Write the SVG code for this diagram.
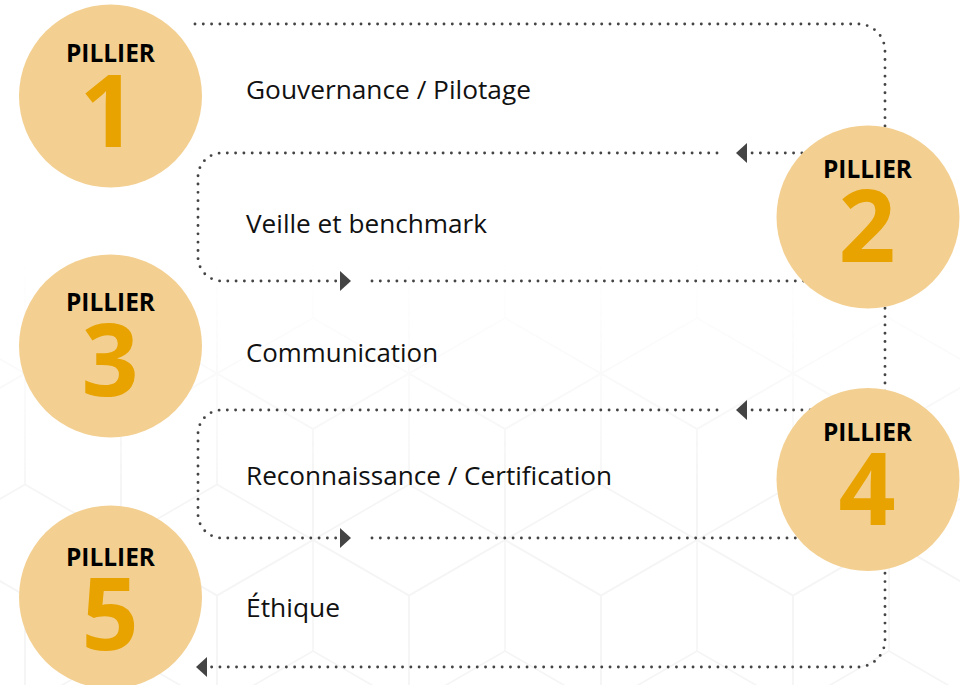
<svg xmlns="http://www.w3.org/2000/svg" xmlns:xlink="http://www.w3.org/1999/xlink" width="960" height="685" viewBox="0 0 960 685">
<defs>
<style>
.pill{fill:#F3D092}
.ptit{font-family:"Open Sans","DejaVu Sans",sans-serif;font-weight:700;font-size:25px;fill:#000;text-anchor:middle}
.pnum{font-family:"Open Sans","DejaVu Sans",sans-serif;font-weight:700;font-size:100px;fill:#E8A300;text-anchor:middle}
.lbl{font-family:"Open Sans","DejaVu Sans",sans-serif;font-size:26px;fill:#111}
.dot{fill:none;stroke:#444;stroke-width:2.9;stroke-linecap:round;stroke-dasharray:0 8.3}
.arr{fill:#444}
.hex{fill:none;stroke:#F5F5F5;stroke-width:1.6}
</style>
<path id="hx" class="hex" d="M0,-111 L96,-55.5 L96,55.5 L0,111 L-96,55.5 L-96,-55.5 Z M-96,55.5 L0,0 L96,55.5 M0,0 L0,-111"/>
<pattern id="hexpat" patternUnits="userSpaceOnUse" x="121" y="-15" width="192" height="333">
<use xlink:href="#hx" x="0" y="0"/>
<use xlink:href="#hx" x="192" y="0"/>
<use xlink:href="#hx" x="96" y="166.5"/>
<use xlink:href="#hx" x="-96" y="166.5"/>
<use xlink:href="#hx" x="288" y="166.5"/>
<use xlink:href="#hx" x="0" y="333"/>
<use xlink:href="#hx" x="192" y="333"/>
</pattern>
<linearGradient id="fade" x1="0" y1="0" x2="0" y2="1">
<stop offset="0" stop-color="#fff" stop-opacity="0"/>
<stop offset="0.38" stop-color="#fff" stop-opacity="0"/>
<stop offset="0.7" stop-color="#fff" stop-opacity="1"/>
<stop offset="1" stop-color="#fff" stop-opacity="1"/>
</linearGradient>
<mask id="fmask" maskUnits="userSpaceOnUse" x="0" y="0" width="960" height="685">
<rect x="0" y="0" width="960" height="685" fill="url(#fade)"/>
</mask>
</defs>
<rect x="0" y="0" width="960" height="685" fill="#fff"/>
<rect id="background-pattern" x="0" y="0" width="960" height="685" fill="url(#hexpat)" mask="url(#fmask)"/>

<g id="connectors">
<path class="dot" d="M195,24 H858 A27,27 0 0 1 885,51 V135"/>
<path class="dot" d="M860,153 H752"/>
<polygon class="arr" points="736,153 747,143 747,163"/>
<path class="dot" d="M717,153 H222 A24,24 0 0 0 198,177 V257 A24,24 0 0 0 222,281 H340"/>
<polygon class="arr" points="351,281 340,271 340,291"/>
<path class="dot" d="M372,281 H860"/>
<path class="dot" d="M885,300 V395"/>
<path class="dot" d="M860,410 H752"/>
<polygon class="arr" points="736,410 747,400 747,420"/>
<path class="dot" d="M717,410 H222 A24,24 0 0 0 198,434 V514 A24,24 0 0 0 222,538 H340"/>
<polygon class="arr" points="351,538 340,528 340,548"/>
<path class="dot" d="M372,538 H860"/>
<path class="dot" d="M885,565 V640 A27,27 0 0 1 858,667 H210"/>
<polygon class="arr" points="196,667 207,657 207,677"/>
</g>

<g id="pillier-1">
<circle class="pill" cx="110.5" cy="96" r="91.5"/>
<text class="ptit" x="110.5" y="62" textLength="89" lengthAdjust="spacingAndGlyphs">PILLIER</text>
<text class="pnum" x="108" y="147">1</text>
<text class="lbl" x="246" y="99" textLength="285" lengthAdjust="spacingAndGlyphs">Gouvernance / Pilotage</text>
</g>
<g id="pillier-2">
<circle class="pill" cx="868" cy="217" r="91.5"/>
<text class="ptit" x="867.5" y="178" textLength="89" lengthAdjust="spacingAndGlyphs">PILLIER</text>
<text class="pnum" x="867" y="262">2</text>
<text class="lbl" x="246" y="233" textLength="241" lengthAdjust="spacingAndGlyphs">Veille et benchmark</text>
</g>
<g id="pillier-3">
<circle class="pill" cx="110.5" cy="346" r="91.5"/>
<text class="ptit" x="110.5" y="311" textLength="89" lengthAdjust="spacingAndGlyphs">PILLIER</text>
<text class="pnum" x="110" y="396">3</text>
<text class="lbl" x="246" y="362" textLength="192" lengthAdjust="spacingAndGlyphs">Communication</text>
</g>
<g id="pillier-4">
<circle class="pill" cx="868" cy="479.5" r="91.5"/>
<text class="ptit" x="867.5" y="441" textLength="89" lengthAdjust="spacingAndGlyphs">PILLIER</text>
<text class="pnum" x="867" y="525">4</text>
<text class="lbl" x="246" y="485" textLength="366" lengthAdjust="spacingAndGlyphs">Reconnaissance / Certification</text>
</g>
<g id="pillier-5">
<circle class="pill" cx="110.5" cy="597" r="91.5"/>
<text class="ptit" x="110.5" y="566" textLength="89" lengthAdjust="spacingAndGlyphs">PILLIER</text>
<text class="pnum" x="110" y="650">5</text>
<text class="lbl" x="246" y="617" textLength="94" lengthAdjust="spacingAndGlyphs">Éthique</text>
</g>
</svg>
